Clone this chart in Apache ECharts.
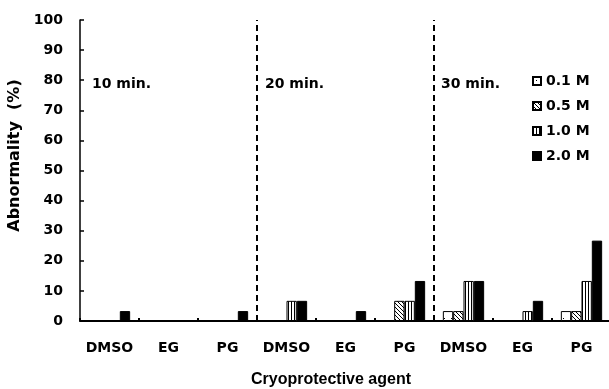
<!DOCTYPE html>
<html>
<head>
<meta charset="utf-8">
<script src="https://cdn.jsdelivr.net/npm/echarts@6/dist/echarts.min.js"></script>
<style>html,body{margin:0;padding:0;background:#fff;}#c{width:609px;height:389px;}</style>
</head>
<body>
<div id="c"></div>
<script>
// Data
var categories = ['DMSO', 'EG', 'PG', 'DMSO', 'EG', 'PG', 'DMSO', 'EG', 'PG'];
var seriesNames = ['0.1 M', '0.5 M', '1.0 M', '2.0 M'];
var values01 = [0, 0, 0, 0, 0, 0, 3.3, 0, 3.3];
var values05 = [0, 0, 0, 0, 0, 6.7, 3.3, 0, 3.3];
var values10 = [0, 0, 0, 6.7, 0, 6.7, 13.3, 3.3, 13.3];
var values20 = [3.3, 0, 3.3, 6.7, 3.3, 13.3, 13.3, 6.7, 26.7];
var yTicks = [0, 10, 20, 30, 40, 50, 60, 70, 80, 90, 100];
var panelLabels = ['10 min.', '20 min.', '30 min.'];
var panelBoundaries = [3, 6];
var xTitle = 'Cryoprotective agent';
var yTitle = 'Abnormality  (%)';

function makePattern(kind) {
  var c = document.createElement('canvas');
  var ctx = c.getContext('2d');
  if (kind === 'dots') {
    c.width = 7; c.height = 7;
    ctx.fillStyle = '#fff'; ctx.fillRect(0, 0, 7, 7);
    ctx.fillStyle = '#000'; ctx.fillRect(3, 3, 1, 1);
  } else if (kind === 'diag') {
    c.width = 4; c.height = 4;
    ctx.fillStyle = '#fff'; ctx.fillRect(0, 0, 4, 4);
    ctx.fillStyle = '#000';
    for (var i = 0; i < 4; i++) { ctx.fillRect(i, i, 1, 1); }
  } else if (kind === 'vert') {
    c.width = 3; c.height = 3;
    ctx.fillStyle = '#fff'; ctx.fillRect(0, 0, 3, 3);
    ctx.fillStyle = '#000'; ctx.fillRect(0, 0, 1, 3);
  }
  return { image: c, repeat: 'repeat' };
}

var fills = [makePattern('dots'), makePattern('diag'), makePattern('vert'), '#000'];
var allValues = [values01, values05, values10, values20];
var font = 'DejaVu Sans';

var chart = echarts.init(document.getElementById('c'));
var series = seriesNames.map(function (n, i) {
  return {
    name: n,
    type: 'bar',
    data: allValues[i],
    barGap: '0%',
    barCategoryGap: '30%',
    itemStyle: { color: fills[i], borderColor: '#000', borderWidth: 1 },
    emphasis: { disabled: true }
  };
});
series.push({
  name: 'dividers',
  type: 'line',
  xAxisIndex: 1,
  data: [],
  silent: true,
  markLine: {
    silent: true,
    symbol: ['none', 'none'],
    label: { show: false },
    lineStyle: { color: '#000', width: 2, type: [6, 4] },
    data: panelBoundaries.map(function (b) { return { xAxis: b }; })
  }
});

chart.setOption({
  animation: false,
  backgroundColor: '#fff',
  grid: { left: 80, top: 20, width: 531, height: 301, containLabel: false, outerBoundsMode: 'none' },
  legend: {
    orient: 'vertical',
    left: 527, top: 68,
    itemWidth: 8, itemHeight: 8,
    itemGap: 9,
    icon: 'rect',
    data: seriesNames,
    textStyle: { fontFamily: font, fontWeight: 'bold', fontSize: 14, color: '#000', lineHeight: 16 }
  },
  xAxis: [{
    type: 'category',
    data: categories,
    axisLine: { lineStyle: { color: '#000', width: 2 } },
    axisTick: { show: true, inside: true, length: 3, interval: 0, lineStyle: { color: '#000', width: 2 } },
    axisLabel: { interval: 0, margin: 20, fontFamily: font, fontWeight: 'bold', fontSize: 14, color: '#000' },
    splitLine: { show: false },
    name: xTitle,
    nameLocation: 'middle',
    nameGap: 51,
    nameTextStyle: { fontFamily: 'Liberation Sans', fontWeight: 'bold', fontSize: 16, color: '#000', padding: [0, 29, 0, 0] }
  }, {
    type: 'value',
    min: 0, max: categories.length,
    show: false
  }],
  yAxis: {
    type: 'value',
    min: 0, max: 100, interval: 10,
    axisLine: { show: true, lineStyle: { color: '#000', width: 1.5 } },
    axisTick: { show: true, inside: true, length: 4, lineStyle: { color: '#000', width: 1.5 } },
    axisLabel: { margin: 17, fontFamily: font, fontWeight: 'bold', fontSize: 14, color: '#000',
      formatter: function (v) { return yTicks.indexOf(v) >= 0 ? String(v) : ''; } },
    splitLine: { show: false },
    name: yTitle,
    nameLocation: 'middle',
    nameRotate: 90,
    nameGap: 45,
    nameTextStyle: { fontFamily: font, fontWeight: 'bold', fontSize: 16, color: '#000', padding: [0, 0, 0, 30] }
  },
  graphic: [
    { type: 'text', left: 92, top: 77, style: { text: panelLabels[0], font: 'bold 14px "DejaVu Sans"', fill: '#000' } },
    { type: 'text', left: 265, top: 77, style: { text: panelLabels[1], font: 'bold 14px "DejaVu Sans"', fill: '#000' } },
    { type: 'text', left: 441, top: 77, style: { text: panelLabels[2], font: 'bold 14px "DejaVu Sans"', fill: '#000' } }
  ],
  series: series
});
</script>
</body>
</html>
